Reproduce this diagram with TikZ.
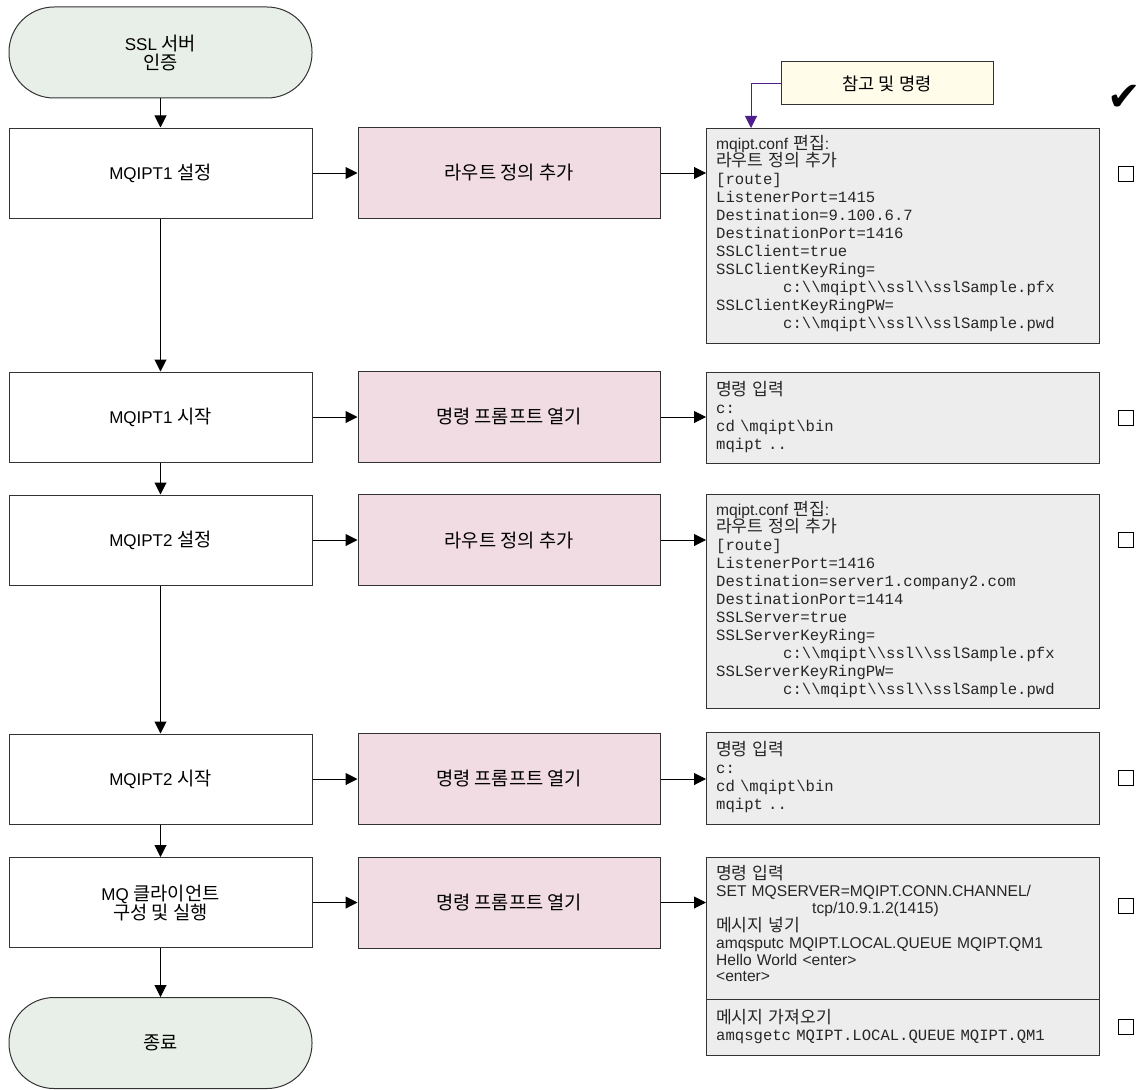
\documentclass[tikz,border=0pt]{standalone}
\usepackage{fontspec}
\setmainfont{Liberation Sans}
\setmonofont{Liberation Mono}
\newfontfamily\kr[Scale=1.1]{Noto Sans CJK KR}
\newfontfamily\symb{DejaVu Sans}
\usetikzlibrary{positioning,arrows.meta,calc}
\definecolor{termfill}{RGB}{232,238,232}
\definecolor{actfill}{RGB}{240,220,226}
\definecolor{cmdfill}{RGB}{237,237,237}
\definecolor{notefill}{RGB}{255,253,234}
\definecolor{noteline}{RGB}{80,30,140}
\newcommand\bs{\textbackslash}

\begin{document}
\begin{tikzpicture}[x=1pt,y=-1pt,
  >={Triangle[length=12pt,width=12pt]},
  base/.style={draw=black!80,line width=1pt,font=\fontsize{17}{19}\selectfont,align=center},
  term/.style={base,fill=termfill,rounded corners=45pt,minimum width=303pt,minimum height=91pt},
  task/.style={base,fill=white,minimum width=303pt,minimum height=90pt},
  act/.style={base,fill=actfill,minimum width=302pt,minimum height=91pt},
  cmdbox/.style={draw=black!80,line width=1pt,fill=cmdfill,minimum width=393pt,anchor=north west,inner sep=0pt},
  cmdtext/.style={anchor=north west,align=left,inner sep=0pt,text width=385pt,text=black!85,font=\fontsize{15.6}{18}\selectfont},
  tick/.style={draw=black,line width=1pt,minimum size=15pt,inner sep=0pt},
  flow/.style={->,line width=1pt}]
\useasboundingbox (0,0) rectangle (1139,1089);

\node[term] (start) at (160.5,52.5) {SSL {\kr 서버}\\{\kr 인증}};
\node[task] (s1) at (160.5,173) {MQIPT1 {\kr 설정}};
\node[task] (s2) at (160.5,417) {MQIPT1 {\kr 시작}};
\node[task] (s3) at (160.5,540) {MQIPT2 {\kr 설정}};
\node[task] (s4) at (160.5,779) {MQIPT2 {\kr 시작}};
\node[task] (s5) at (160.5,902.5) {MQ {\kr 클라이언트}\\{\kr 구성 및 실행}};
\node[term] (stop) at (160.5,1043) {{\kr 종료}};

\node[act] (a1) at (509,173) {\kr 라우트 정의 추가};
\node[act] (a2) at (509,417) {\kr 명령 프롬프트 열기};
\node[act] (a3) at (509,540) {\kr 라우트 정의 추가};
\node[act] (a4) at (509,779) {\kr 명령 프롬프트 열기};
\node[act] (a5) at (509,902.5) {\kr 명령 프롬프트 열기};

\node[cmdbox,minimum height=215pt] (c1) at (706,128) {};
\node[cmdbox,minimum height=91pt] (c2) at (706,372) {};
\node[cmdbox,minimum height=214pt] (c3) at (706,494) {};
\node[cmdbox,minimum height=92pt] (c4) at (706,732) {};
\node[cmdbox,minimum height=142pt] (c5) at (706,857) {};
\node[cmdbox,minimum height=56pt] (c6) at (706,999) {};

\node[cmdtext] (t1) at ([shift={(10,7)}]c1.north west) {mqipt.conf {\kr 편집}:\\[-1pt]
{\kr 라우트 정의 추가}\\
\ttfamily [route]\\
ListenerPort=1415\\
Destination=9.100.6.7\\
DestinationPort=1416\\
SSLClient=true\\
SSLClientKeyRing=\\
\hspace*{67pt}c:\bs\bs mqipt\bs\bs ssl\bs\bs sslSample.pfx\\
SSLClientKeyRingPW=\\
\hspace*{67pt}c:\bs\bs mqipt\bs\bs ssl\bs\bs sslSample.pwd};
\node[cmdtext] (t2) at ([shift={(10,9)}]c2.north west) {{\kr 명령 입력}\\
\ttfamily c:\\
cd \bs mqipt\bs bin\\
mqipt ..};
\node[cmdtext] (t3) at ([shift={(10,7)}]c3.north west) {mqipt.conf {\kr 편집}:\\[-1pt]
{\kr 라우트 정의 추가}\\
\ttfamily [route]\\
ListenerPort=1416\\
Destination=server1.company2.com\\
DestinationPort=1414\\
SSLServer=true\\
SSLServerKeyRing=\\
\hspace*{67pt}c:\bs\bs mqipt\bs\bs ssl\bs\bs sslSample.pfx\\
SSLServerKeyRingPW=\\
\hspace*{67pt}c:\bs\bs mqipt\bs\bs ssl\bs\bs sslSample.pwd};
\node[cmdtext] (t4) at ([shift={(10,9)}]c4.north west) {{\kr 명령 입력}\\
\ttfamily c:\\
cd \bs mqipt\bs bin\\
mqipt ..};
\node[cmdtext,font=\fontsize{15.6}{16.8}\selectfont] (t5) at ([shift={(10,8)}]c5.north west) {{\kr 명령 입력}\\
SET MQSERVER=MQIPT.CONN.CHANNEL/\\
\hspace*{96pt}tcp/10.9.1.2(1415)\\
{\kr 메시지 넣기}\\
amqsputc MQIPT.LOCAL.QUEUE MQIPT.QM1\\
Hello World <enter>\\
<enter>};
\node[cmdtext,font=\fontsize{15.6}{17}\selectfont] (t6) at ([shift={(10,10)}]c6.north west) {{\kr 메시지 가져오기}\\
\ttfamily amqsgetc MQIPT.LOCAL.QUEUE MQIPT.QM1};

\node[base,fill=notefill,minimum width=212pt,minimum height=43pt,font=\fontsize{16}{18}\selectfont] (note) at (887,83.5) {\kr 참고 및 명령};
\coordinate (notetip) at (751,128);

\node[font=\symb\fontsize{40}{40}\selectfont] (done) at (1124,98) {✔};
\node[tick] (k1) at (1125.5,174) {};
\node[tick] (k2) at (1125.5,418) {};
\node[tick] (k3) at (1125.5,540) {};
\node[tick] (k4) at (1125.5,778) {};
\node[tick] (k5) at (1125.5,906) {};
\node[tick] (k6) at (1125.5,1027) {};

\draw[flow] (start) -- (s1);
\draw[flow] (s1) -- (s2);
\draw[flow] (s2) -- (s3);
\draw[flow] (s3) -- (s4);
\draw[flow] (s4) -- (s5);
\draw[flow] (s5) -- (stop);
\draw[flow] (s1) -- (a1);
\draw[flow] (s2) -- (a2);
\draw[flow] (s3) -- (a3);
\draw[flow] (s4) -- (a4);
\draw[flow] (s5) -- (a5);
\draw[flow] (a1.east) -- (a1.east -| c1.west);
\draw[flow] (a2.east) -- (a2.east -| c2.west);
\draw[flow] (a3.east) -- (a3.east -| c3.west);
\draw[flow] (a4.east) -- (a4.east -| c4.west);
\draw[flow] (a5.east) -- (a5.east -| c5.west);
\draw[flow,noteline] (note.west) -| (notetip);
\end{tikzpicture}
\end{document}
